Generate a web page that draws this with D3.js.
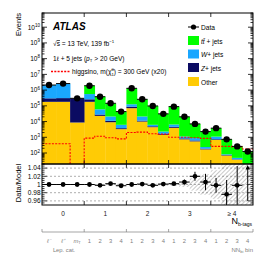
<!DOCTYPE html>
<html>
<head>
<meta charset="utf-8">
<script src="https://cdn.jsdelivr.net/npm/d3@7"></script>
<style>
  body { margin: 0; background: #fff; }
  svg { display: block; font-family: 'Liberation Sans', Arial, sans-serif; }
</style>
</head>
<body>
<svg id="chart" width="266" height="253"></svg>
<script>
'use strict';

// bins: lepton categories for 0 b-tags, then NN_bj bins for 1, 2, 3, >=4 b-tags
var groupLabels = ['0', '1', '2', '3', '\u2265 4'];
var binLabels = ['\u2113\u207B', '\u2113\u207A', 'mT', '1', '2', '3', '4', '1', '2', '3', '4',
                 '1', '2', '3', '4', '1', '2', '3', '4'];
var binGroup = [0, 0, 0, 1, 1, 1, 1, 2, 2, 2, 2, 3, 3, 3, 3, 4, 4, 4, 4];

var other = [1.8e5, 1.8e5, 8.7e3, 1.8e5, 2.3e4, 9.1e3, 3.3e3, 7.1e4, 1.0e4, 4.4e3, 1450,
             4.0e3, 740, 550, 170, 690, 69, 38, 10];
var zjets = [1.2e5, 1.3e5, 2.85e5, 8.0e4, 5.0e3, 2.1e3, 500, 1.8e4, 1.5e3, 600, 210,
             700, 110, 80, 20, 70, 5, 2, 1];
var wjets = [1.78e6, 2.27e6, 5.0e3, 3.0e5, 3.2e4, 9.8e3, 2.4e3, 3.7e4, 9.5e3, 1.2e3, 650,
             1.8e3, 270, 260, 50, 340, 9, 9, 3];
var ttbar = [2.0e4, 2.0e4, 1.0e3, 1.34e6, 3.2e5, 1.24e5, 3.7e4, 1.17e6, 2.4e5, 9.2e4, 2.87e4,
             8.2e4, 1.9e4, 6.2e3, 2060, 2700, 660, 214, 112];
var data = [2.1e6, 2.6e6, 3.0e5, 1.9e6, 3.8e5, 1.45e5, 4.3e4, 1.3e6, 2.6e5, 9.8e4, 3.1e4,
            8.9e4, 2.0e4, 7.1e3, 2300, 3800, 740, 263, 126];
var signal = [390, 390, 5, 890, 1175, 930, 790, 2000, 2140, 1660, 1580,
              1000, 1000, 930, 850, 263, 263, 240, 178];

var ratio = [1.0, 1.0, 1.0, 1.0, 0.998, 1.002, 0.997, 1.0, 1.001, 0.998, 1.001,
             1.002, 1.006, 1.02, 1.006, 0.998, 0.976, 0.998, 1.07];
var ratioErr = [0.001, 0.001, 0.001, 0.001, 0.001, 0.002, 0.003, 0.001, 0.001, 0.002, 0.003,
                0.003, 0.006, 0.011, 0.02, 0.018, 0.035, 0.047, 0.11];
var modelErr = [0.001, 0.001, 0.001, 0.001, 0.001, 0.001, 0.002, 0.001, 0.001, 0.002, 0.003,
                0.003, 0.006, 0.015, 0.025, 0.035, 0.07, 0.09, 0.1];

var yTicks = [1e2, 1e3, 1e4, 1e5, 1e6, 1e7, 1e8, 1e9, 1e10];
var ratioTicks = [0.96, 0.98, 1, 1.02, 1.04];

var COLORS = { other: '#ffcb05', zjets: '#0b0b62', wjets: '#1aa7ff', ttbar: '#00ff00' };

var LEFT = 42, RIGHT = 253, TOP = 13, MAIN_BOTTOM = 164, RATIO_BOTTOM = 205,
    Y_MIN = 20, Y_MAX = 8e10;

var svg = d3.select('#chart');

var x = d3.scaleLinear().domain([-0.5, 4.5]).range([LEFT, RIGHT]);
var y = d3.scaleLog().domain([Y_MIN, Y_MAX]).range([MAIN_BOTTOM, TOP]);
var yr = d3.scaleLinear().domain([0.95, 1.05]).range([RATIO_BOTTOM, MAIN_BOTTOM]);

function binEdges(i) {
  var g = binGroup[i],
      members = binGroup.map(function (v, j) { return v === g ? j : -1; })
                        .filter(function (j) { return j >= 0; }),
      n = members.length,
      k = members.indexOf(i);
  return [g - 0.5 + k / n, g - 0.5 + (k + 1) / n];
}
function binCenter(i) {
  var e = binEdges(i);
  return (e[0] + e[1]) / 2;
}
function yc(v) { return y(Math.max(v, Y_MIN * 0.5)); }

var defs = svg.append('defs');
defs.append('clipPath').attr('id', 'clipMain')
  .append('rect').attr('x', LEFT).attr('y', TOP)
  .attr('width', RIGHT - LEFT).attr('height', MAIN_BOTTOM - TOP);
defs.append('clipPath').attr('id', 'clipRatio')
  .append('rect').attr('x', LEFT).attr('y', MAIN_BOTTOM)
  .attr('width', RIGHT - LEFT).attr('height', RATIO_BOTTOM - MAIN_BOTTOM);
var hatch = defs.append('pattern').attr('id', 'hatch')
  .attr('patternUnits', 'userSpaceOnUse').attr('width', 3).attr('height', 3)
  .attr('patternTransform', 'rotate(45)');
hatch.append('line').attr('x1', 0).attr('y1', 0).attr('x2', 0).attr('y2', 3)
  .attr('stroke', '#777').attr('stroke-width', 0.8);

// ---------- main panel ----------
var rows = binLabels.map(function (d, i) {
  return { other: other[i], zjets: zjets[i], wjets: wjets[i], ttbar: ttbar[i] };
});
var stacked = d3.stack().keys(['other', 'zjets', 'wjets', 'ttbar'])(rows);

var main = svg.append('g').attr('clip-path', 'url(#clipMain)');

stacked.forEach(function (layer) {
  main.append('g')
    .selectAll('rect')
    .data(layer)
    .enter()
    .append('rect')
    .attr('x', function (d, i) { return x(binEdges(i)[0]); })
    .attr('width', function (d, i) { return x(binEdges(i)[1]) - x(binEdges(i)[0]) + 0.3; })
    .attr('y', function (d) { return yc(d[1]); })
    .attr('height', function (d) { return Math.max(0, yc(d[0]) - yc(d[1])); })
    .attr('fill', COLORS[layer.key]);
});

var sigPts = [];
signal.forEach(function (v, i) {
  var e = binEdges(i);
  sigPts.push([x(e[0]), yc(v)]);
  sigPts.push([x(e[1]), yc(v)]);
});
main.append('path')
  .attr('d', d3.line()(sigPts))
  .attr('fill', 'none')
  .attr('stroke', '#ff0000')
  .attr('stroke-width', 1.1)
  .attr('stroke-dasharray', '2,1.3');

var dataG = main.append('g');
data.forEach(function (v, i) {
  var e = binEdges(i);
  dataG.append('line')
    .attr('x1', x(e[0])).attr('x2', x(e[1]))
    .attr('y1', y(v)).attr('y2', y(v))
    .attr('stroke', '#000').attr('stroke-width', 1);
  dataG.append('circle')
    .attr('cx', x(binCenter(i))).attr('cy', y(v)).attr('r', 3.2)
    .attr('fill', '#000');
});

// main axes: log ticks on both sides
var axisG = svg.append('g').attr('stroke', '#000').attr('stroke-width', 0.8);
var minor = [];
for (var dec = 1; dec <= 10; dec++) {
  for (var m = 2; m <= 9; m++) {
    var mv = m * Math.pow(10, dec);
    if (mv >= Y_MIN && mv <= Y_MAX) { minor.push(mv); }
  }
}
minor.forEach(function (v) {
  axisG.append('line').attr('x1', LEFT).attr('x2', LEFT + 2.5).attr('y1', y(v)).attr('y2', y(v));
  axisG.append('line').attr('x1', RIGHT).attr('x2', RIGHT - 2.5).attr('y1', y(v)).attr('y2', y(v));
});
yTicks.forEach(function (v) {
  axisG.append('line').attr('x1', LEFT).attr('x2', LEFT + 5).attr('y1', y(v)).attr('y2', y(v));
  axisG.append('line').attr('x1', RIGHT).attr('x2', RIGHT - 5).attr('y1', y(v)).attr('y2', y(v));
  var t = svg.append('text')
    .attr('x', 40).attr('y', y(v) + 2.3)
    .attr('text-anchor', 'end')
    .attr('font-size', 6.5)
    .text('10');
  t.append('tspan').attr('dy', -2.8).attr('font-size', 4.5)
    .text(Math.round(Math.log10(v)));
});
[0.5, 1.5, 2.5, 3.5].forEach(function (b) {
  axisG.append('line').attr('x1', x(b)).attr('x2', x(b)).attr('y1', TOP).attr('y2', TOP + 4);
  axisG.append('line').attr('x1', x(b)).attr('x2', x(b)).attr('y1', MAIN_BOTTOM).attr('y2', MAIN_BOTTOM - 4);
  axisG.append('line').attr('x1', x(b)).attr('x2', x(b)).attr('y1', MAIN_BOTTOM).attr('y2', MAIN_BOTTOM + 4);
  axisG.append('line').attr('x1', x(b)).attr('x2', x(b)).attr('y1', RATIO_BOTTOM).attr('y2', RATIO_BOTTOM - 4);
});

// ---------- ratio panel ----------
var ratioG = svg.append('g').attr('clip-path', 'url(#clipRatio)');

modelErr.forEach(function (err, i) {
  var e = binEdges(i);
  ratioG.append('rect')
    .attr('x', x(e[0])).attr('width', x(e[1]) - x(e[0]))
    .attr('y', yr(1 + err)).attr('height', yr(1 - err) - yr(1 + err))
    .attr('fill', 'url(#hatch)');
});

ratioTicks.forEach(function (v) {
  ratioG.append('line')
    .attr('x1', LEFT).attr('x2', RIGHT).attr('y1', yr(v)).attr('y2', yr(v))
    .attr('stroke', '#777').attr('stroke-width', 0.6)
    .attr('stroke-dasharray', '2,2');
});

ratio.forEach(function (v, i) {
  var e = binEdges(i),
      cx = x(binCenter(i));
  if (v > yr.domain()[1]) {
    ratioG.append('line')
      .attr('x1', cx).attr('x2', cx)
      .attr('y1', yr(v - ratioErr[i])).attr('y2', MAIN_BOTTOM + 3)
      .attr('stroke', '#000').attr('stroke-width', 1);
    ratioG.append('path')
      .attr('d', d3.line()([[cx - 2.2, MAIN_BOTTOM + 5.5], [cx, MAIN_BOTTOM + 1], [cx + 2.2, MAIN_BOTTOM + 5.5]]))
      .attr('fill', '#000');
    return;
  }
  ratioG.append('line')
    .attr('x1', x(e[0])).attr('x2', x(e[1])).attr('y1', yr(v)).attr('y2', yr(v))
    .attr('stroke', '#000').attr('stroke-width', 1);
  ratioG.append('line')
    .attr('x1', cx).attr('x2', cx)
    .attr('y1', yr(v + ratioErr[i])).attr('y2', yr(v - ratioErr[i]))
    .attr('stroke', '#000').attr('stroke-width', 1);
  ratioG.append('circle')
    .attr('cx', cx).attr('cy', yr(v)).attr('r', 2.4).attr('fill', '#000');
});

d3.range(0.955, 1.05, 0.005).forEach(function (v) {
  var isMajor = ratioTicks.some(function (t) { return Math.abs(t - v) < 1e-6; }),
      len = isMajor ? 5 : 2.5;
  axisG.append('line').attr('x1', LEFT).attr('x2', LEFT + len).attr('y1', yr(v)).attr('y2', yr(v));
  axisG.append('line').attr('x1', RIGHT).attr('x2', RIGHT - len).attr('y1', yr(v)).attr('y2', yr(v));
});
ratioTicks.forEach(function (v) {
  svg.append('text')
    .attr('x', 40.5).attr('y', yr(v) + 2.3)
    .attr('text-anchor', 'end')
    .attr('font-size', 6.5)
    .text(d3.format('')(v));
});

// frames
svg.append('rect').attr('x', LEFT).attr('y', TOP)
  .attr('width', RIGHT - LEFT).attr('height', MAIN_BOTTOM - TOP)
  .attr('fill', 'none').attr('stroke', '#000').attr('stroke-width', 1);
svg.append('rect').attr('x', LEFT).attr('y', MAIN_BOTTOM)
  .attr('width', RIGHT - LEFT).attr('height', RATIO_BOTTOM - MAIN_BOTTOM)
  .attr('fill', 'none').attr('stroke', '#000').attr('stroke-width', 1);

// axis titles
svg.append('text')
  .attr('transform', 'translate(21,' + TOP + ') rotate(-90)')
  .attr('text-anchor', 'end')
  .attr('font-size', 7.5)
  .text('Events');
svg.append('text')
  .attr('transform', 'translate(21,183) rotate(-90)')
  .attr('text-anchor', 'middle')
  .attr('font-size', 7.5)
  .text('Data/Model');

// N b-tags group labels
groupLabels.forEach(function (g, i) {
  svg.append('text')
    .attr('x', x(i)).attr('y', 215.5)
    .attr('text-anchor', 'middle')
    .attr('font-size', 6.5)
    .attr('fill', '#222')
    .text(g);
});
var nb = svg.append('text')
  .attr('x', 252).attr('y', 223.5)
  .attr('text-anchor', 'end')
  .attr('font-size', 9)
  .text('N');
nb.append('tspan').attr('dy', 2.5).attr('font-size', 5).text('b-tags');

// lower (secondary) axis: lepton category and NN_bj bin
var lowY = 232, LOW_COLOR = '#808080';
var low = svg.append('g').attr('stroke', LOW_COLOR).attr('stroke-width', 0.7);
low.append('line').attr('x1', LEFT).attr('x2', RIGHT).attr('y1', lowY).attr('y2', lowY);
[-0.5, 0.5, 1.5, 2.5, 3.5, 4.5].forEach(function (b) {
  low.append('line').attr('x1', x(b)).attr('x2', x(b)).attr('y1', lowY).attr('y2', lowY - 3);
});
binLabels.forEach(function (l, i) {
  var t = svg.append('text')
    .attr('x', x(binCenter(i))).attr('y', 243)
    .attr('text-anchor', 'middle')
    .attr('font-size', 5.8)
    .attr('fill', LOW_COLOR);
  if (l === 'mT') {
    t.append('tspan').attr('font-style', 'italic').text('m');
    t.append('tspan').attr('dy', 1.3).attr('font-size', 4).text('T');
  } else {
    t.attr('font-style', i < 2 ? 'italic' : 'normal').text(l);
  }
});
svg.append('text')
  .attr('x', 64).attr('y', 252)
  .attr('text-anchor', 'middle')
  .attr('font-size', 5.8)
  .attr('fill', LOW_COLOR)
  .text('Lep. cat.');
var nn = svg.append('text')
  .attr('x', 253).attr('y', 251.5)
  .attr('text-anchor', 'end')
  .attr('font-size', 6)
  .attr('fill', LOW_COLOR)
  .text('NN');
nn.append('tspan').attr('dy', 1.5).attr('font-size', 4).text('bj');
nn.append('tspan').attr('dy', -1.5).text(' bin');

// ATLAS label and info
svg.append('text')
  .attr('x', 53).attr('y', 29.5)
  .attr('font-size', 10).attr('font-weight', 'bold').attr('font-style', 'italic')
  .text('ATLAS');
var lum = svg.append('text').attr('x', 53).attr('y', 46).attr('font-size', 6.6);
lum.append('tspan').text('\u221A');
lum.append('tspan').attr('text-decoration', 'overline').text('s');
lum.append('tspan').text(' = 13 TeV, 139 fb');
lum.append('tspan').attr('dy', -2.6).attr('font-size', 4.4).text('\u22121');
var sel = svg.append('text').attr('x', 53).attr('y', 60.5).attr('font-size', 6.6);
sel.append('tspan').text('1\u2113 + 5 jets (');
sel.append('tspan').attr('font-style', 'italic').text('p');
sel.append('tspan').attr('dy', 1.5).attr('font-size', 4.4).text('T');
sel.append('tspan').attr('dy', -1.5).text(' > 20 GeV)');

svg.append('line')
  .attr('x1', 51).attr('x2', 70).attr('y1', 71.5).attr('y2', 71.5)
  .attr('stroke', '#ff0000').attr('stroke-width', 1.3).attr('stroke-dasharray', '2,1.3');
var sig = svg.append('text').attr('x', 72).attr('y', 74).attr('font-size', 6.6);
sig.append('tspan').text('higgsino, m(\u03C7\u0303');
sig.append('tspan').attr('dy', -2.6).attr('font-size', 4.2).text('0');
sig.append('tspan').attr('dx', -2.3).attr('dy', 4.4).attr('font-size', 4.2).text('1');
sig.append('tspan').attr('dy', -1.8).text(') = 300 GeV (x20)');

// legend
var legendItems = [
  { key: 'ttbar', y: 36 },
  { key: 'wjets', y: 49.5 },
  { key: 'zjets', y: 63 },
  { key: 'other', y: 77 }
];
svg.append('line').attr('x1', 188).attr('x2', 199).attr('y1', 27).attr('y2', 27)
  .attr('stroke', '#000').attr('stroke-width', 1);
svg.append('circle').attr('cx', 193.5).attr('cy', 27).attr('r', 2.6).attr('fill', '#000');
svg.append('text').attr('x', 201).attr('y', 29.5).attr('font-size', 6.6).text('Data');
legendItems.forEach(function (it) {
  svg.append('rect')
    .attr('x', 188).attr('y', it.y).attr('width', 11).attr('height', 9)
    .attr('fill', COLORS[it.key]);
});
var lt = svg.append('text').attr('x', 201).attr('y', 43.5).attr('font-size', 6.6);
lt.append('tspan').attr('font-style', 'italic').text('t\u0074\u0304');
lt.append('tspan').text(' + jets');
var lw = svg.append('text').attr('x', 201).attr('y', 57).attr('font-size', 6.6);
lw.append('tspan').attr('font-style', 'italic').text('W');
lw.append('tspan').text('+ jets');
var lz = svg.append('text').attr('x', 201).attr('y', 70.5).attr('font-size', 6.6);
lz.append('tspan').attr('font-style', 'italic').text('Z');
lz.append('tspan').text('+ jets');
svg.append('text').attr('x', 201).attr('y', 84.5).attr('font-size', 6.6).text('Other');
</script>
</body>
</html>
